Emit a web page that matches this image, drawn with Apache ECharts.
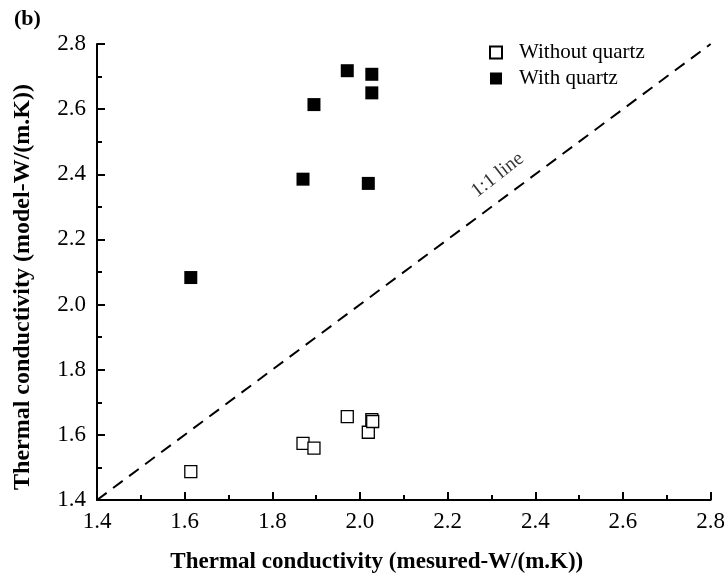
<!DOCTYPE html>
<html>
<head>
<meta charset="utf-8">
<script src="https://cdn.jsdelivr.net/npm/echarts@6/dist/echarts.min.js"></script>
<style>
  html, body { margin: 0; padding: 0; background: #fff; }
  #chart { width: 728px; height: 583px; }
</style>
</head>
<body>
<div id="chart"></div>
<script>
// Measured thermal conductivity, W/(m.K)
const measured = [1.614, 1.870, 1.895, 1.971, 2.019, 2.027, 2.029];
// Model predictions without quartz
const modelWithout = [1.487, 1.574, 1.559, 1.656, 1.608, 1.647, 1.641];
// Model predictions with quartz (same samples)
const measuredQ = [1.614, 1.870, 1.895, 1.971, 2.019, 2.027, 2.027];
const modelWith = [2.083, 2.385, 2.614, 2.718, 2.372, 2.707, 2.650];
// 1:1 reference line end points
const oneToOne = [1.4, 2.8];
const axisTicks = [1.4, 1.6, 1.8, 2.0, 2.2, 2.4, 2.6, 2.8];

const serif = '"Liberation Serif", "Times New Roman", serif';
const chart = echarts.init(document.getElementById('chart'), null, { renderer: 'canvas' });

const axisCommon = {
  type: 'value',
  min: axisTicks[0],
  max: axisTicks[axisTicks.length - 1],
  interval: 0.2,
  axisLine: { show: true, lineStyle: { color: '#000', width: 2 } },
  axisTick: { show: true, inside: true, length: 8, lineStyle: { color: '#000', width: 2 } },
  minorTick: { show: true, splitNumber: 2, length: 5, lineStyle: { color: '#000', width: 2 } },
  splitLine: { show: false },
  axisLabel: {
    color: '#000', fontFamily: serif, fontSize: 23,
    formatter: v => v.toFixed(1)
  },
  nameLocation: 'middle'
};

chart.setOption({
  animation: false,
  backgroundColor: '#fff',
  grid: { left: 97, right: 17, top: 44, bottom: 83 },
  xAxis: Object.assign({}, axisCommon, {
    name: 'Thermal conductivity (mesured-W/(m.K))',
    nameGap: 51,
    nameTextStyle: {
      color: '#000', fontFamily: serif, fontSize: 23, fontWeight: 'bold',
      padding: [0, 54, 0, 0]
    },
    axisLabel: Object.assign({}, axisCommon.axisLabel, { margin: 10 })
  }),
  yAxis: Object.assign({}, axisCommon, {
    name: 'Thermal conductivity (model-W/(m.K))',
    nameGap: 62,
    nameTextStyle: {
      color: '#000', fontFamily: serif, fontSize: 24, fontWeight: 'bold',
      padding: [0, 30, 0, 0]
    },
    axisLabel: Object.assign({}, axisCommon.axisLabel, { margin: 11 })
  }),
  title: {
    text: '(b)', left: 9, top: 3,
    textStyle: { fontFamily: serif, fontSize: 22, fontWeight: 'bold', color: '#000' }
  },
  legend: {
    orient: 'vertical',
    left: 484, top: 37,
    itemWidth: 12, itemHeight: 12, itemGap: 5,
    textStyle: { fontFamily: serif, fontSize: 21, color: '#000', padding: [0, 0, 0, 12] },
    data: ['Without quartz', 'With quartz']
  },
  series: [
    {
      type: 'line',
      data: [[oneToOne[0], oneToOne[0]], [oneToOne[1], oneToOne[1]]],
      symbol: 'none',
      lineStyle: { color: '#000', width: 2, type: [12, 8] },
      silent: true,
      z: 1
    },
    {
      // "1:1 line" caption sitting along the dashed line
      type: 'scatter',
      data: [[2.314, 2.398]],
      symbolSize: 0,
      silent: true,
      label: {
        show: true, position: 'inside', rotate: 38,
        formatter: '1:1 line',
        fontFamily: serif, fontSize: 20, color: '#000'
      }
    },
    {
      name: 'Without quartz',
      type: 'scatter',
      symbol: 'rect',
      symbolSize: 12,
      data: measured.map((x, i) => [x, modelWithout[i]]),
      itemStyle: { color: '#fff', borderColor: '#000', borderWidth: 1.3, opacity: 1 },
      z: 3
    },
    {
      name: 'With quartz',
      type: 'scatter',
      symbol: 'rect',
      symbolSize: 13,
      data: measuredQ.map((x, i) => [x, modelWith[i]]),
      itemStyle: { color: '#000', opacity: 1 },
      z: 3
    }
  ]
});
</script>
</body>
</html>
